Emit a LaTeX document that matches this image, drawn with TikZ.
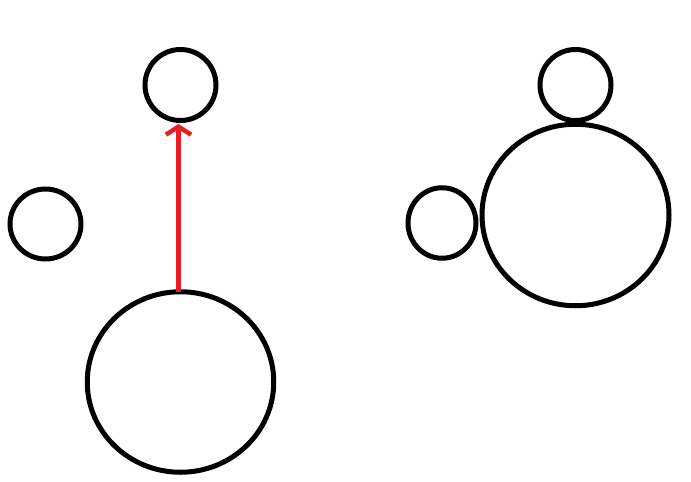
\documentclass[tikz,border=0pt]{standalone}
\usetikzlibrary{shapes.geometric,arrows.meta}
\definecolor{paintred}{RGB}{237,28,36}
\tikzset{
  ring/.style={ellipse, draw=black, line width=5pt, inner sep=0pt, outer sep=0pt},
  pointer/.style={draw=paintred, line width=4.5pt, -{Straight Barb[length=8pt,width=25pt,line width=4.5pt]}}
}
\begin{document}
\begin{tikzpicture}[x=1pt,y=-1pt]
\useasboundingbox[fill=white] (0,0) rectangle (691,482);
% left group
\node[ring, minimum width=71pt, minimum height=71pt] (topL) at (180.5,85) {};
\node[ring, minimum width=71pt, minimum height=70pt] (sideL) at (45.5,224) {};
\node[ring, minimum width=186.5pt, minimum height=180.5pt] (bigL) at (180.5,382) {};
% right group
\node[ring, minimum width=71pt, minimum height=71pt] (topR) at (575.5,85) {};
\node[ring, minimum width=68pt, minimum height=70.5pt] (sideR) at (442,223) {};
\node[ring, minimum width=187pt, minimum height=181.5pt] (bigR) at (575.5,215) {};
% arrow
\draw[pointer, shorten >=3.5pt] ([xshift=-2pt]bigL.north) -- ([xshift=-2pt]topL.south);
\end{tikzpicture}
\end{document}
